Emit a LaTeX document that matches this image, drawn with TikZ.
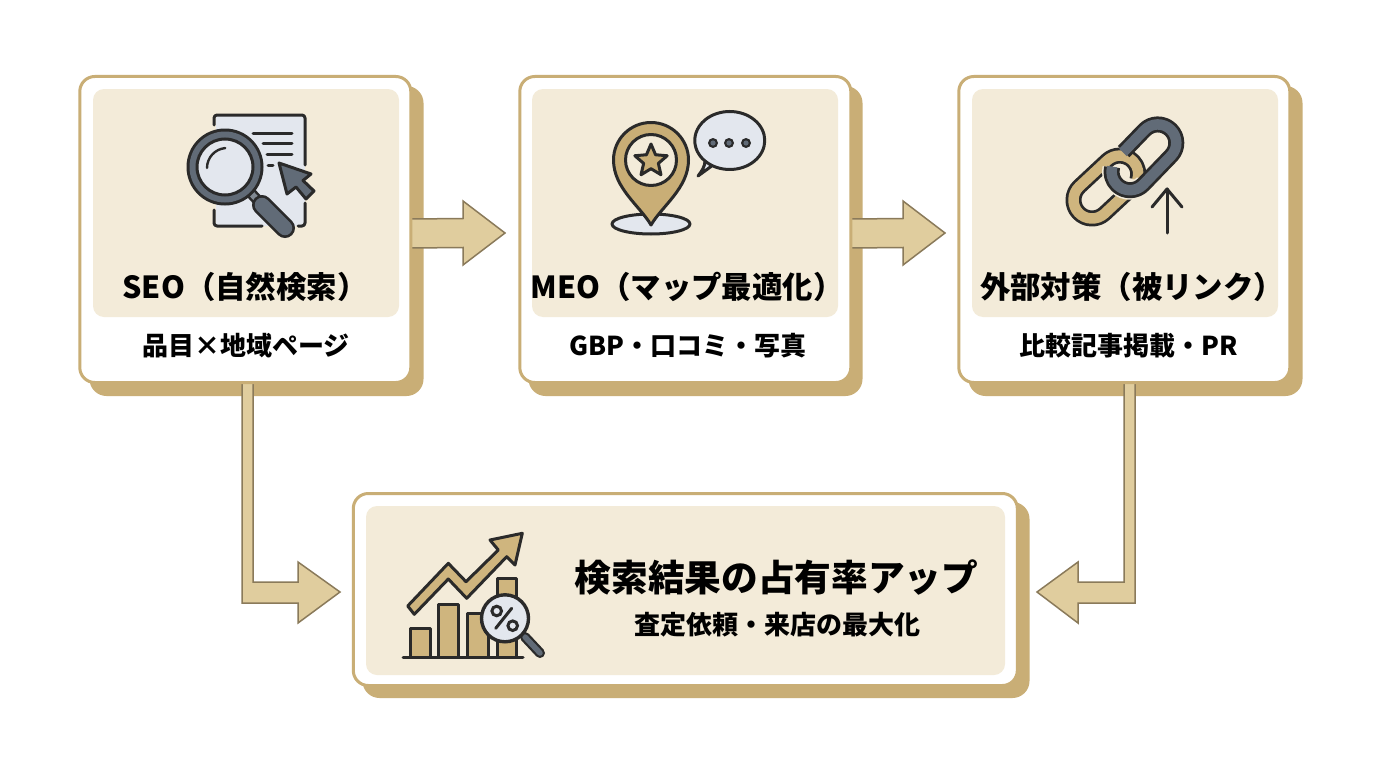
\documentclass[tikz,border=0pt]{standalone}
\usepackage{fontspec}
\setmainfont{Noto Sans CJK JP}
\usetikzlibrary{shapes.geometric}
\definecolor{tan}{HTML}{C9AE76}
\definecolor{cream}{HTML}{F3EBD9}
\definecolor{flowfill}{HTML}{E0CD9E}
\definecolor{flowline}{HTML}{8A7A5A}
\definecolor{ink}{HTML}{2A2A2A}
\definecolor{steel}{HTML}{616B77}
\definecolor{paper}{HTML}{E3E7EE}
\definecolor{gold}{HTML}{CFB57E}
\tikzset{
  every node/.style={outer sep=0pt,inner sep=0pt},
  cardbox/.style={rectangle,rounded corners=15,draw=tan,line width=3,fill=white},
  shadowbox/.style={rectangle,rounded corners=17,fill=tan},
  panelbox/.style={rectangle,rounded corners=11,fill=cream},
  flowarrow/.style={draw=flowline,fill=flowfill,line width=1.5,line join=miter},
  titletext/.style={font=\bfseries\fontsize{30.4}{32}\selectfont,text=black},
  subtext/.style={font=\bfseries\fontsize{26}{28}\selectfont,text=black},
  icon/.style={draw=ink,line width=3,line join=round,line cap=round},
}
\begin{document}
\begin{tikzpicture}[x=1pt,y=1pt,yscale=-1]
\useasboundingbox (0,0) rectangle (1376,768);
\fill[white] (0,0) rectangle (1376,768);
% shadows
\node[shadowbox,minimum width=334,minimum height=310] (shA) at (256.5,241) {};
\node[shadowbox,minimum width=334,minimum height=310] (shB) at (695.5,241) {};
\node[shadowbox,minimum width=334,minimum height=310] (shC) at (1135.5,241) {};
\node[shadowbox,minimum width=667,minimum height=196] (shD) at (696,600) {};
% card anchors (drawn after the connectors)
\node[minimum width=331,minimum height=306] (seo) at (245.3,229.5) {};
\node[minimum width=331,minimum height=306] (meo) at (685.3,229.5) {};
\node[minimum width=331,minimum height=306] (ext) at (1124.3,229.5) {};
\node[minimum width=664,minimum height=192] (result) at (685.3,589.5) {};
\coordinate (tipA) at ([shift={(-14.8,3.5)}]meo.west);
\coordinate (tipB) at ([shift={(-13.8,3.5)}]ext.west);
\coordinate (tipL) at ([shift={(-13.3,2.5)}]result.west);
\coordinate (tipR) at ([shift={(19.7,2.5)}]result.east);
% connectors
\draw[flowarrow] ([yshift=-10.5]seo.east) -- ([shift={(-42,-14.5)}]tipA) -- ([shift={(-42,-32)}]tipA) -- (tipA) -- ([shift={(-42,32)}]tipA) -- ([shift={(-42,14.5)}]tipA) -- ([yshift=18.5]seo.east) -- cycle;
\draw[flowarrow] ([yshift=-10.5]meo.east) -- ([shift={(-42,-14.5)}]tipB) -- ([shift={(-42,-32)}]tipB) -- (tipB) -- ([shift={(-42,32)}]tipB) -- ([shift={(-42,14.5)}]tipB) -- ([yshift=18.5]meo.east) -- cycle;
\draw[flowarrow] ([xshift=-3.3]seo.south) -- ([xshift=7.7]seo.south) -- ([shift={(-87,-10)}]tipL) -- ([shift={(-42,-10)}]tipL) -- ([shift={(-42,-30)}]tipL) -- (tipL) -- ([shift={(-42,31)}]tipL) -- ([shift={(-42,11)}]tipL) -- ([shift={(-98,11)}]tipL) -- cycle;
\draw[flowarrow] ([xshift=10.7]ext.south) -- ([xshift=-0.3]ext.south) -- ([shift={(87,-10)}]tipR) -- ([shift={(41,-10)}]tipR) -- ([shift={(41,-30)}]tipR) -- (tipR) -- ([shift={(41,31)}]tipR) -- ([shift={(41,11)}]tipR) -- ([shift={(98,11)}]tipR) -- cycle;
% cards
\node[cardbox,minimum width=331,minimum height=306] (seoCard) at (seo) {};
\node[cardbox,minimum width=331,minimum height=306] (meoCard) at (meo) {};
\node[cardbox,minimum width=331,minimum height=306] (extCard) at (ext) {};
\node[cardbox,minimum width=664,minimum height=192] (resultCard) at (result) {};
\node[panelbox,minimum width=306,minimum height=228] (panelA) at (246,203) {};
\node[panelbox,minimum width=306,minimum height=228] (panelB) at (685,203) {};
\node[panelbox,minimum width=306,minimum height=228] (panelC) at (1125,203) {};
\node[panelbox,minimum width=639,minimum height=169] (panelD) at (685.5,590.5) {};
% ---- icon 1: document + magnifier + cursor
\fill[paper] (216,115) rectangle (305,226);
\draw[icon] (214,125) -- (214,118) arc (180:270:3) -- (302,115) arc (-90:0:3) -- (305,165);
\draw[icon] (305,203) -- (305,223) arc (0:90:3) -- (298,226);
\draw[icon] (262,226) -- (217,226) arc (90:180:3) -- (214,210);
\draw[icon] (253,133) -- (292,133);
\draw[icon] (263,143.5) -- (292,143.5);
\draw[icon] (267,154) -- (292,154);
\draw[icon] (268,165) -- (273,165);
\draw[icon,fill=steel] (279,163) -- (311,174) -- (303,180.5) -- (314,191) -- (306,199) -- (296,187) -- (287,194) -- cycle;
\draw[draw=ink,line width=11,line cap=butt] (250,192) -- (262,205);
\draw[draw=steel!80,line width=6,line cap=butt] (250,192) -- (262,205);
\draw[draw=ink,line width=20,line cap=round] (262,205) -- (285,228);
\draw[draw=steel,line width=14.5,line cap=round] (262,205) -- (285,228);
\fill[ink] (225,167) circle (38.5);
\fill[steel] (225,167) circle (35.5);
\draw[draw=ink,line width=3,fill=paper] (225,167) circle (28);
\draw[draw=ink,line width=2.4,line cap=round] (207,168) arc (180:265:20);
% ---- icon 2: pin + bubble
\draw[icon,fill=paper] (651,224) ellipse (39 and 10);
\draw[icon,fill=tan] (651,225) .. controls (640,206) and (613.5,188) .. (613.5,160) arc (180:360:37.5) .. controls (688.5,188) and (662,206) .. (651,225) -- cycle;
\draw[icon,fill=cream] (651,160) circle (25.5);
\node[star,star points=5,star point ratio=2.2,minimum size=34,draw=ink,line width=3,fill=tan,line join=round] (pinStar) at (651,161) {};
\draw[icon,fill=paper] (705,161) arc (135:-240:35 and 29) -- (698,176) .. controls (702,171) and (705,166) .. (705,161) -- cycle;
\fill[ink] (713,143) circle (5) (729,143) circle (5) (746,143) circle (5);
\fill[steel] (713,143) circle (2.6) (729,143) circle (2.6) (746,143) circle (2.6);
% ---- icon 3: chain + arrow
\begin{scope}[shift={(1092,200)},rotate=-43]
  \draw[draw=ink,line width=16,line cap=butt,line join=round] (30,18.5) -- (0,18.5) arc (90:270:18.5) -- (38,-18.5) arc (-90:60:18.5);
  \draw[draw=gold,line width=10.5,line cap=butt,line join=round] (31,18.5) -- (0,18.5) arc (90:270:18.5) -- (38,-18.5) arc (-90:62:18.5);
\end{scope}
\begin{scope}[shift={(1130,171.7)},rotate=-46]
  \draw[draw=cream,line width=19,line cap=butt] (0,18.5) arc (90:240:18.5);
  \draw[draw=ink,line width=16,line cap=butt,line join=round] (10,-18.5) -- (40,-18.5) arc (-90:90:18.5) -- (0,18.5) arc (90:240:18.5);
  \draw[draw=steel,line width=10.5,line cap=butt,line join=round] (9,-18.5) -- (40,-18.5) arc (-90:90:18.5) -- (0,18.5) arc (90:242:18.5);
\end{scope}
\draw[icon] (1167,233) -- (1167,189);
\draw[icon] (1152,207) -- (1167,189) -- (1182,207);
% ---- icon 4: bars, trend arrow, magnifier
\draw[icon,fill=gold] (410,657) -- (410,628) -- (430,628) -- (430,657);
\draw[icon,fill=gold] (438,657) -- (438,604) -- (458,604) -- (458,657);
\draw[icon,fill=gold] (467,657) -- (467,613) -- (488,613) -- (488,657);
\draw[icon,fill=gold] (497,657) -- (497,578) -- (516,578) -- (516,657);
\draw[icon] (403,657) -- (523,657);
\draw[icon,fill=gold,line join=round] (407.7,606) -- (448.3,563.3) -- (466,581.7) -- (498.3,550) -- (490,540) -- (522.3,533.3) -- (515,565) -- (506.7,556.7) -- (466.7,598.3) -- (448.3,579) -- (414.3,614.3) -- cycle;
\draw[draw=ink,line width=10,line cap=round] (525,637) -- (540,653);
\draw[draw=steel,line width=5.5,line cap=round] (525,637) -- (540,653);
\draw[draw=ink,line width=3.4,fill=paper] (505,618.3) circle (23.5);
\draw[draw=ink,line width=3] (496.7,611) circle (4.8) (512.7,625.7) circle (4.8);
\draw[icon] (511.7,608.3) -- (495.7,628.3);
% ---- text
\node[titletext] (titleA) at (245,287) {SEO（自然検索）};
\node[subtext] (subA) at (246,345.5) {品目×地域ページ};
\node[titletext] (titleB) at (687,287) {MEO（マップ最適化）};
\node[subtext] (subB) at (687.5,345.5) {GBP・口コミ・写真};
\node[titletext] (titleC) at (1132,287) {外部対策（被リンク）};
\node[subtext] (subC) at (1128.5,345.5) {比較記事掲載・PR};
\node[font=\bfseries\fontsize{36.7}{40}\selectfont,text=black] (titleD) at (776.5,578) {検索結果の占有率アップ};
\node[subtext] (subD) at (777.5,625) {査定依頼・来店の最大化};
\end{tikzpicture}
\end{document}
